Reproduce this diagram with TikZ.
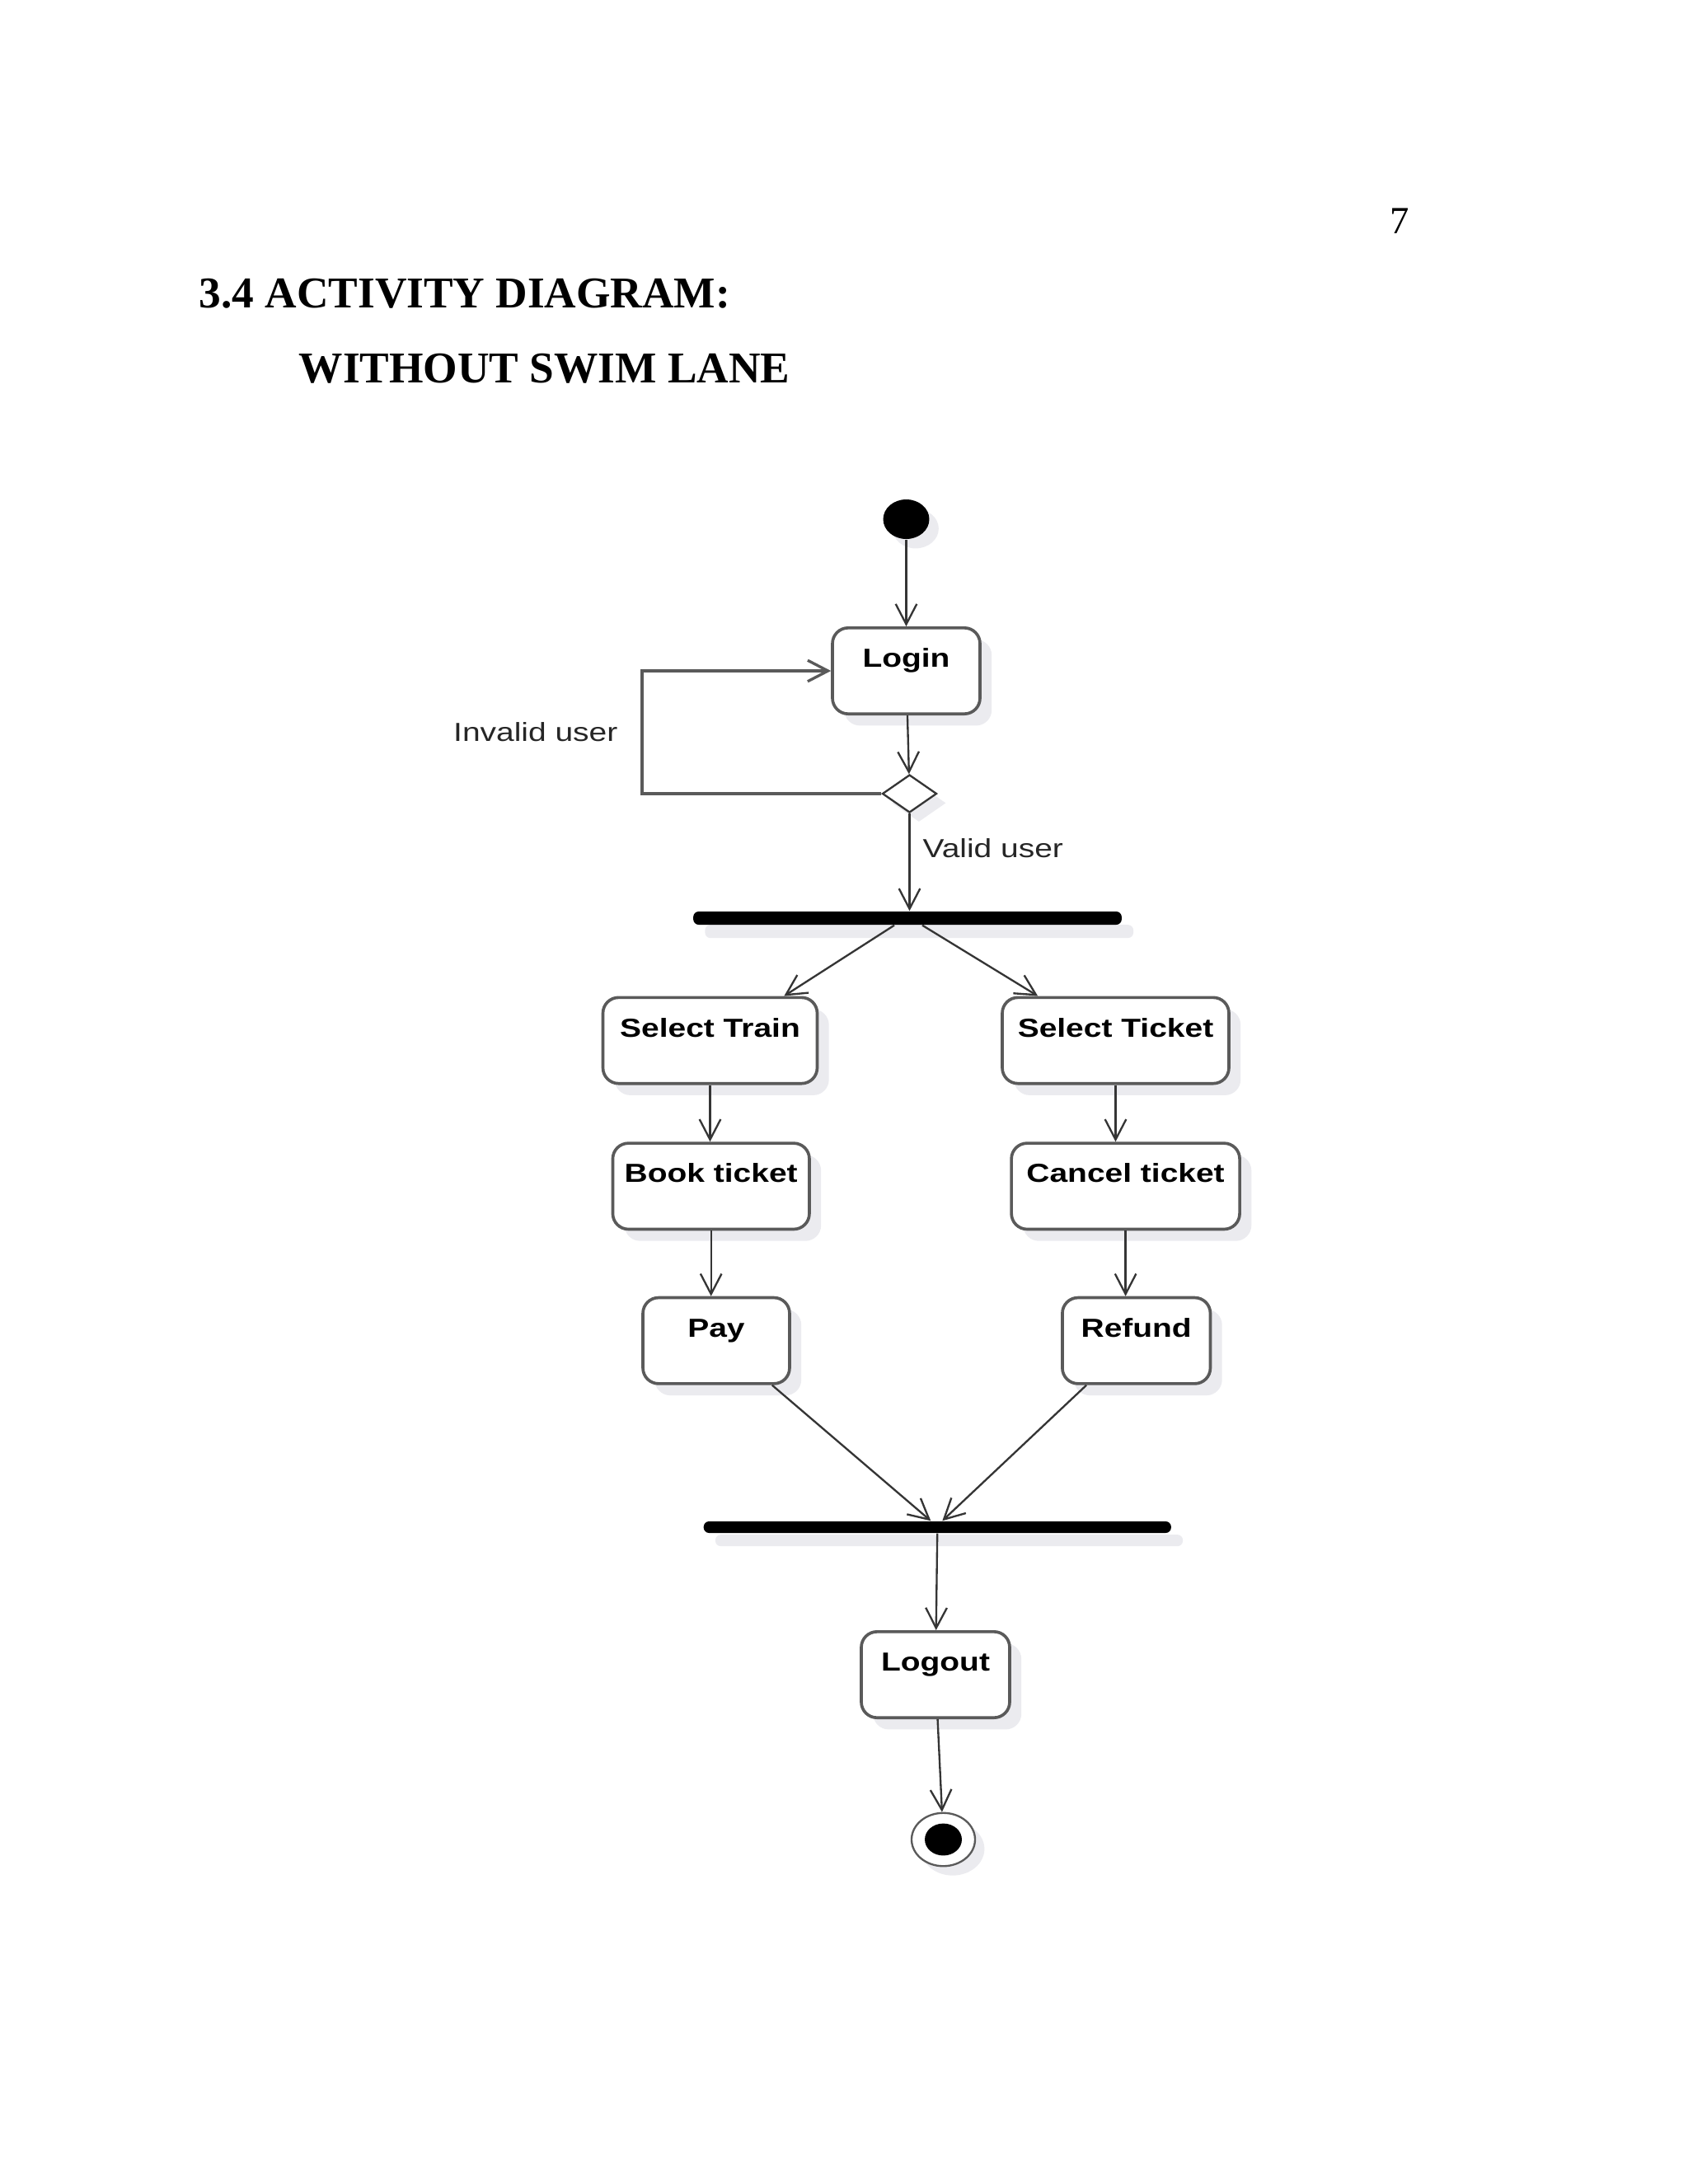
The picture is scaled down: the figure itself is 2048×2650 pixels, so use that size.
\documentclass[tikz,border=0pt]{standalone}
\usepackage{fontspec}
\setmainfont{Liberation Serif}
\newfontfamily\umlfont[FakeStretch=1.23]{Liberation Sans}
\usetikzlibrary{arrows.meta,shapes.geometric,shadows,calc}
\definecolor{boxgray}{HTML}{5A5A5A}
\definecolor{flowgray}{HTML}{353535}
\definecolor{shadegray}{HTML}{EBEBEF}

\begin{document}
\begin{tikzpicture}[x=0.010542cm, y=-0.010542cm]
        \useasboundingbox (0,0) rectangle (2048,2650);
        % page text
        \begin{scope}[every node/.style={inner sep=0}]
                \node[anchor=base, font=\fontsize{14}{16}\selectfont] (PageNo) at (1698,283) {7};
                \node[anchor=base west, font=\fontsize{16}{19}\selectfont\bfseries] (Title) at (241,373.5) {3.4 ACTIVITY DIAGRAM:};
                \node[anchor=base west, font=\fontsize{16}{19}\selectfont\bfseries] (SubTitle) at (362,464) {WITHOUT SWIM LANE};
                \node[anchor=base west, text=black!85, font=\umlfont\fontsize{9.5}{11}\selectfont] (InvalidLbl) at (549.5,899) {Invalid user};
                \node[anchor=base west, text=black!85, font=\umlfont\fontsize{9.5}{11}\selectfont] (ValidLbl) at (1119,1040.6) {Valid user};
        \end{scope}
        % start, decision, end
        \begin{scope}[every node/.style={inner sep=0, drop shadow={shadow xshift=0.12cm, shadow yshift=-0.12cm, fill=shadegray, opacity=1}}]
                \node[ellipse, fill=black, minimum width=0.59cm, minimum height=0.506cm] (Start) at (1099.5,630) {};
                \node[diamond, draw=flowgray, line width=0.7pt, fill=white, minimum width=0.696cm, minimum height=0.485cm] (Dec) at (1103.5,963) {};
                \node[ellipse, draw=boxgray, line width=0.7pt, fill=white, minimum width=0.812cm, minimum height=0.68cm] (End) at (1144.5,2232) {};
        \end{scope}
        \node[ellipse, fill=black, inner sep=0, minimum width=0.474cm, minimum height=0.41cm] (EndIn) at (End) {};
        % fork and join bars
        \begin{scope}[every node/.style={fill=black, inner sep=0, rounded corners=0.07cm, drop shadow={shadow xshift=0.15cm, shadow yshift=-0.17cm, fill=shadegray, opacity=1}}]
                \node[minimum width=5.48cm, minimum height=0.169cm] (Fork) at (1101,1114) {};
                \node[minimum width=5.98cm, minimum height=0.148cm] (Join) at (1137.3,1853) {};
        \end{scope}
        % activities
        \begin{scope}[every node/.style={draw=boxgray, line width=1.1pt, fill=white, rounded corners=0.2cm, minimum height=1.1cm, text height=0.25cm, text depth=0.345cm, font=\umlfont\fontsize{9.5}{11}\selectfont\bfseries, drop shadow={shadow xshift=0.15cm, shadow yshift=-0.15cm, fill=shadegray, opacity=1}}]
                \node[minimum width=1.887cm] (Login) at (1099.5,814) {Login};
                \node[minimum width=2.741cm] (Train) at (861.5,1262.5) {Select Train};
                \node[minimum width=2.899cm] (Ticket) at (1353.5,1262.5) {Select Ticket};
                \node[minimum width=2.515cm] (Book) at (862.7,1439.3) {Book ticket};
                \node[minimum width=2.920cm] (Cancel) at (1365.6,1439.3) {Cancel ticket};
                \node[minimum width=1.876cm] (Pay) at (869,1626.7) {Pay};
                \node[minimum width=1.893cm] (Refund) at (1378.7,1626.7) {Refund};
                \node[minimum width=1.898cm] (Logout) at (1135,2032) {Logout};
        \end{scope}
        \coordinate (Loop) at (779,888);
        % flows
        \begin{scope}[every path/.style={flowgray, line width=0.7pt, ->, >={Straight Barb[length=0.26cm, width=0.27cm]}}]
                \path (Start) edge (Login);
                \path (Login) edge (Dec);
                \draw[boxgray, line width=1pt] (Dec.west) -| (Loop) |- (Login.west);
                \path (Dec) edge (Dec.south |- Fork.north);
                \path ($(Fork.south)+(-16,0)$) edge ($(Train.north east)+(-42,0)$);
                \path ($(Fork.south)+(18,0)$) edge ($(Ticket.north west)+(45,0)$);
                \path (Train) edge (Train.south |- Book.north);
                \path (Ticket) edge (Ticket.south |- Cancel.north);
                \path (Book) edge (Book.south |- Pay.north);
                \path (Cancel) edge (Cancel.south |- Refund.north);
                \path ($(Pay.south east)+(-23,0)$) edge ($(Join.north)+(-8,0)$);
                \path ($(Refund.south west)+(31,0)$) edge ($(Join.north)+(6,0)$);
                \path (Join) edge (Logout);
                \path (Logout) edge (End);
        \end{scope}
\end{tikzpicture}
\end{document}
